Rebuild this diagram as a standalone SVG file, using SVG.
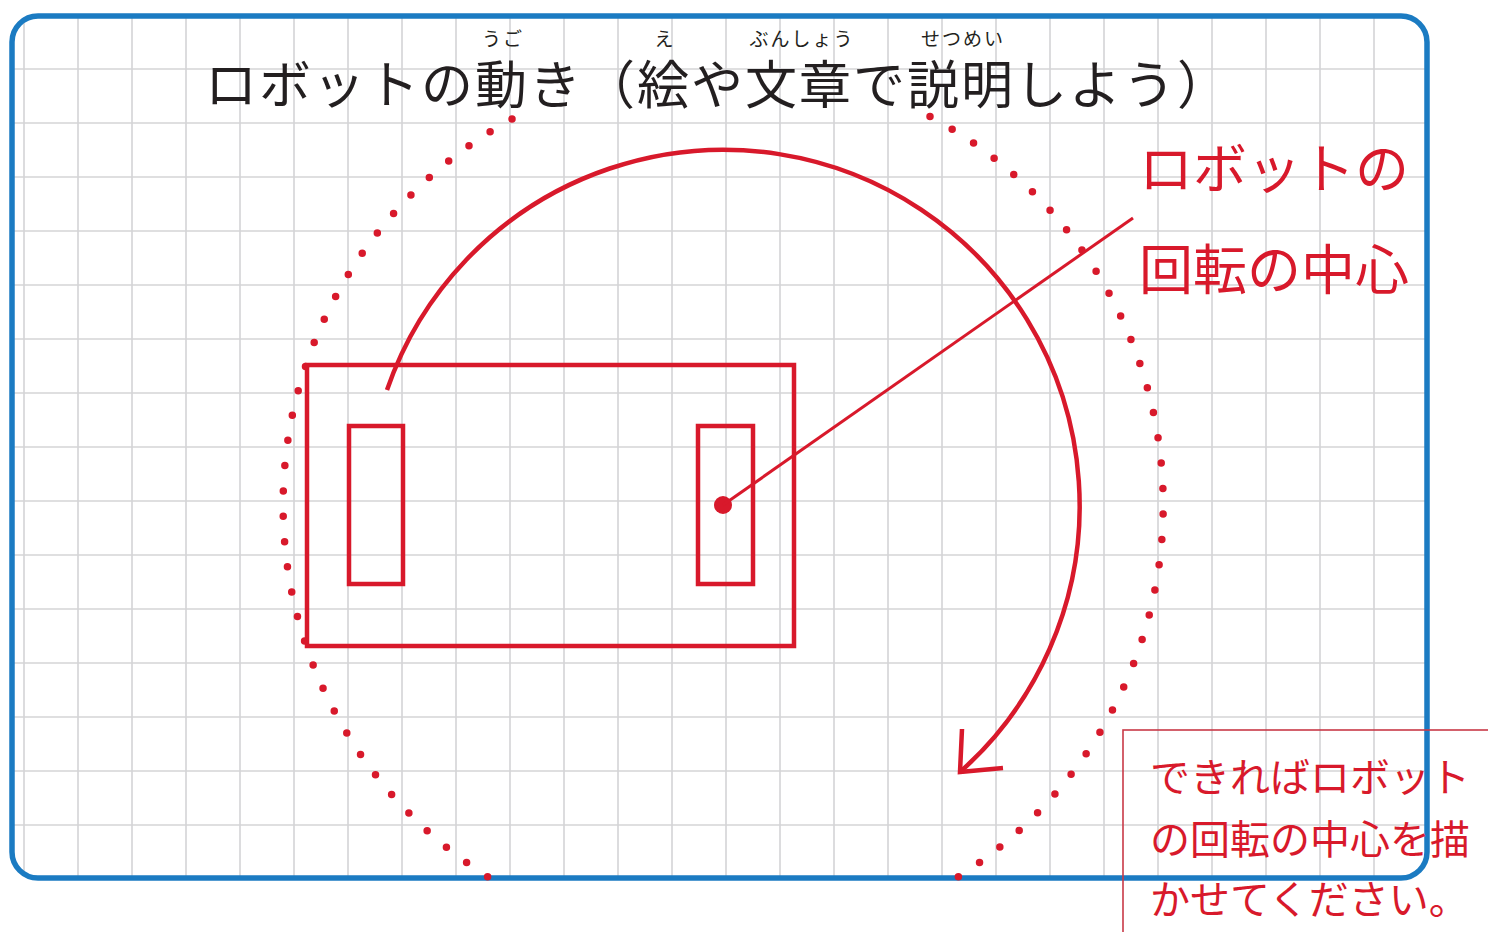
<svg xmlns="http://www.w3.org/2000/svg" width="1488" height="932" viewBox="0 0 1488 932">
  <defs>
    <clipPath id="boxClip">
      <rect x="12" y="16" width="1415" height="862" rx="26" ry="26"/>
    </clipPath>
    <style>
      .grid line { stroke: #d4d4d6; stroke-width: 1.6; }
      .red { stroke: #d8192b; fill: none; stroke-width: 4.5; }
      .dots { stroke: #d8192b; fill: none; stroke-width: 7.5; stroke-linecap: round; stroke-dasharray: 0 0.9995; }
      .title { font-family: "Noto Sans CJK JP", "Noto Sans", sans-serif; fill: #231f20; }
      .ruby { font-family: "Noto Sans CJK JP", "Noto Sans", sans-serif; fill: #231f20; font-size: 19px; letter-spacing: 2px; }
      .redtext { font-family: "Noto Sans CJK JP", "Noto Sans", sans-serif; fill: #d8192b; }
    </style>
  </defs>

  <rect x="0" y="0" width="1488" height="932" fill="#ffffff"/>

  <g id="grid" class="grid" clip-path="url(#boxClip)">
    <line x1="24" y1="0" x2="24" y2="932"/>
    <line x1="78" y1="0" x2="78" y2="932"/>
    <line x1="132" y1="0" x2="132" y2="932"/>
    <line x1="186" y1="0" x2="186" y2="932"/>
    <line x1="240" y1="0" x2="240" y2="932"/>
    <line x1="294" y1="0" x2="294" y2="932"/>
    <line x1="348" y1="0" x2="348" y2="932"/>
    <line x1="402" y1="0" x2="402" y2="932"/>
    <line x1="456" y1="0" x2="456" y2="932"/>
    <line x1="510" y1="0" x2="510" y2="932"/>
    <line x1="564" y1="0" x2="564" y2="932"/>
    <line x1="618" y1="0" x2="618" y2="932"/>
    <line x1="672" y1="0" x2="672" y2="932"/>
    <line x1="726" y1="0" x2="726" y2="932"/>
    <line x1="780" y1="0" x2="780" y2="932"/>
    <line x1="834" y1="0" x2="834" y2="932"/>
    <line x1="888" y1="0" x2="888" y2="932"/>
    <line x1="942" y1="0" x2="942" y2="932"/>
    <line x1="996" y1="0" x2="996" y2="932"/>
    <line x1="1050" y1="0" x2="1050" y2="932"/>
    <line x1="1104" y1="0" x2="1104" y2="932"/>
    <line x1="1158" y1="0" x2="1158" y2="932"/>
    <line x1="1212" y1="0" x2="1212" y2="932"/>
    <line x1="1266" y1="0" x2="1266" y2="932"/>
    <line x1="1320" y1="0" x2="1320" y2="932"/>
    <line x1="1374" y1="0" x2="1374" y2="932"/>
    <line x1="0" y1="69" x2="1488" y2="69"/>
    <line x1="0" y1="123" x2="1488" y2="123"/>
    <line x1="0" y1="177" x2="1488" y2="177"/>
    <line x1="0" y1="231" x2="1488" y2="231"/>
    <line x1="0" y1="285" x2="1488" y2="285"/>
    <line x1="0" y1="339" x2="1488" y2="339"/>
    <line x1="0" y1="393" x2="1488" y2="393"/>
    <line x1="0" y1="447" x2="1488" y2="447"/>
    <line x1="0" y1="501" x2="1488" y2="501"/>
    <line x1="0" y1="555" x2="1488" y2="555"/>
    <line x1="0" y1="609" x2="1488" y2="609"/>
    <line x1="0" y1="663" x2="1488" y2="663"/>
    <line x1="0" y1="717" x2="1488" y2="717"/>
    <line x1="0" y1="771" x2="1488" y2="771"/>
    <line x1="0" y1="825" x2="1488" y2="825"/>
  </g>

  <g id="title">
    <text class="title" x="205" y="104" font-size="52" letter-spacing="2">ロボットの動き（絵や文章で説明しよう）</text>
    <text class="ruby" x="503" y="46" text-anchor="middle">うご</text>
    <text class="ruby" x="665" y="46" text-anchor="middle">え</text>
    <text class="ruby" x="802" y="46" text-anchor="middle">ぶんしょう</text>
    <text class="ruby" x="963" y="46" text-anchor="middle">せつめい</text>
  </g>

  <g id="robot-body">
    <rect class="red" x="307" y="365" width="487" height="281"/>
  </g>
  <g id="wheel-left">
    <rect class="red" x="349" y="426" width="54" height="158"/>
  </g>
  <g id="wheel-right">
    <rect class="red" x="698" y="426" width="55" height="158"/>
  </g>
  <g id="rotation-center">
    <circle cx="723" cy="505" r="9" fill="#d8192b"/>
  </g>

  <g id="connectors">
    <path id="rotation-arrow" class="red" d="M 387 390 A 356 356 0 1 1 960 772"/>
    <path id="arrowhead" class="red" stroke-linejoin="miter" d="M 962 729 L 960 772 L 1003 768"/>
    <line id="leader" x1="723" y1="505" x2="1133" y2="218" stroke="#d8192b" stroke-width="3"/>
  </g>

  <g id="label-center">
    <text class="redtext" x="1139" y="189" font-size="54">ロボットの</text>
    <text class="redtext" x="1139" y="290" font-size="54">回転の中心</text>
  </g>

  <g id="frame">
    <rect x="12" y="16" width="1415" height="862" rx="26" ry="26" fill="none" stroke="#1b7bc2" stroke-width="5.5"/>
  </g>

  <g id="dotted-circle">
    <path class="dots" pathLength="36" d="M 930 116.5 A 440 440 0 0 1 958 877"/>
    <path class="dots" pathLength="36" d="M 512 119 A 440 440 0 0 0 488 877"/>
  </g>

  <g id="note">
    <rect x="1123" y="730" width="400" height="300" fill="none" stroke="#c93a48" stroke-width="1.6"/>
    <text class="redtext" x="1150" y="792" font-size="40">できればロボット</text>
    <text class="redtext" x="1150" y="854" font-size="40">の回転の中心を描</text>
    <text class="redtext" x="1150" y="914" font-size="40">かせてください。</text>
  </g>
</svg>
